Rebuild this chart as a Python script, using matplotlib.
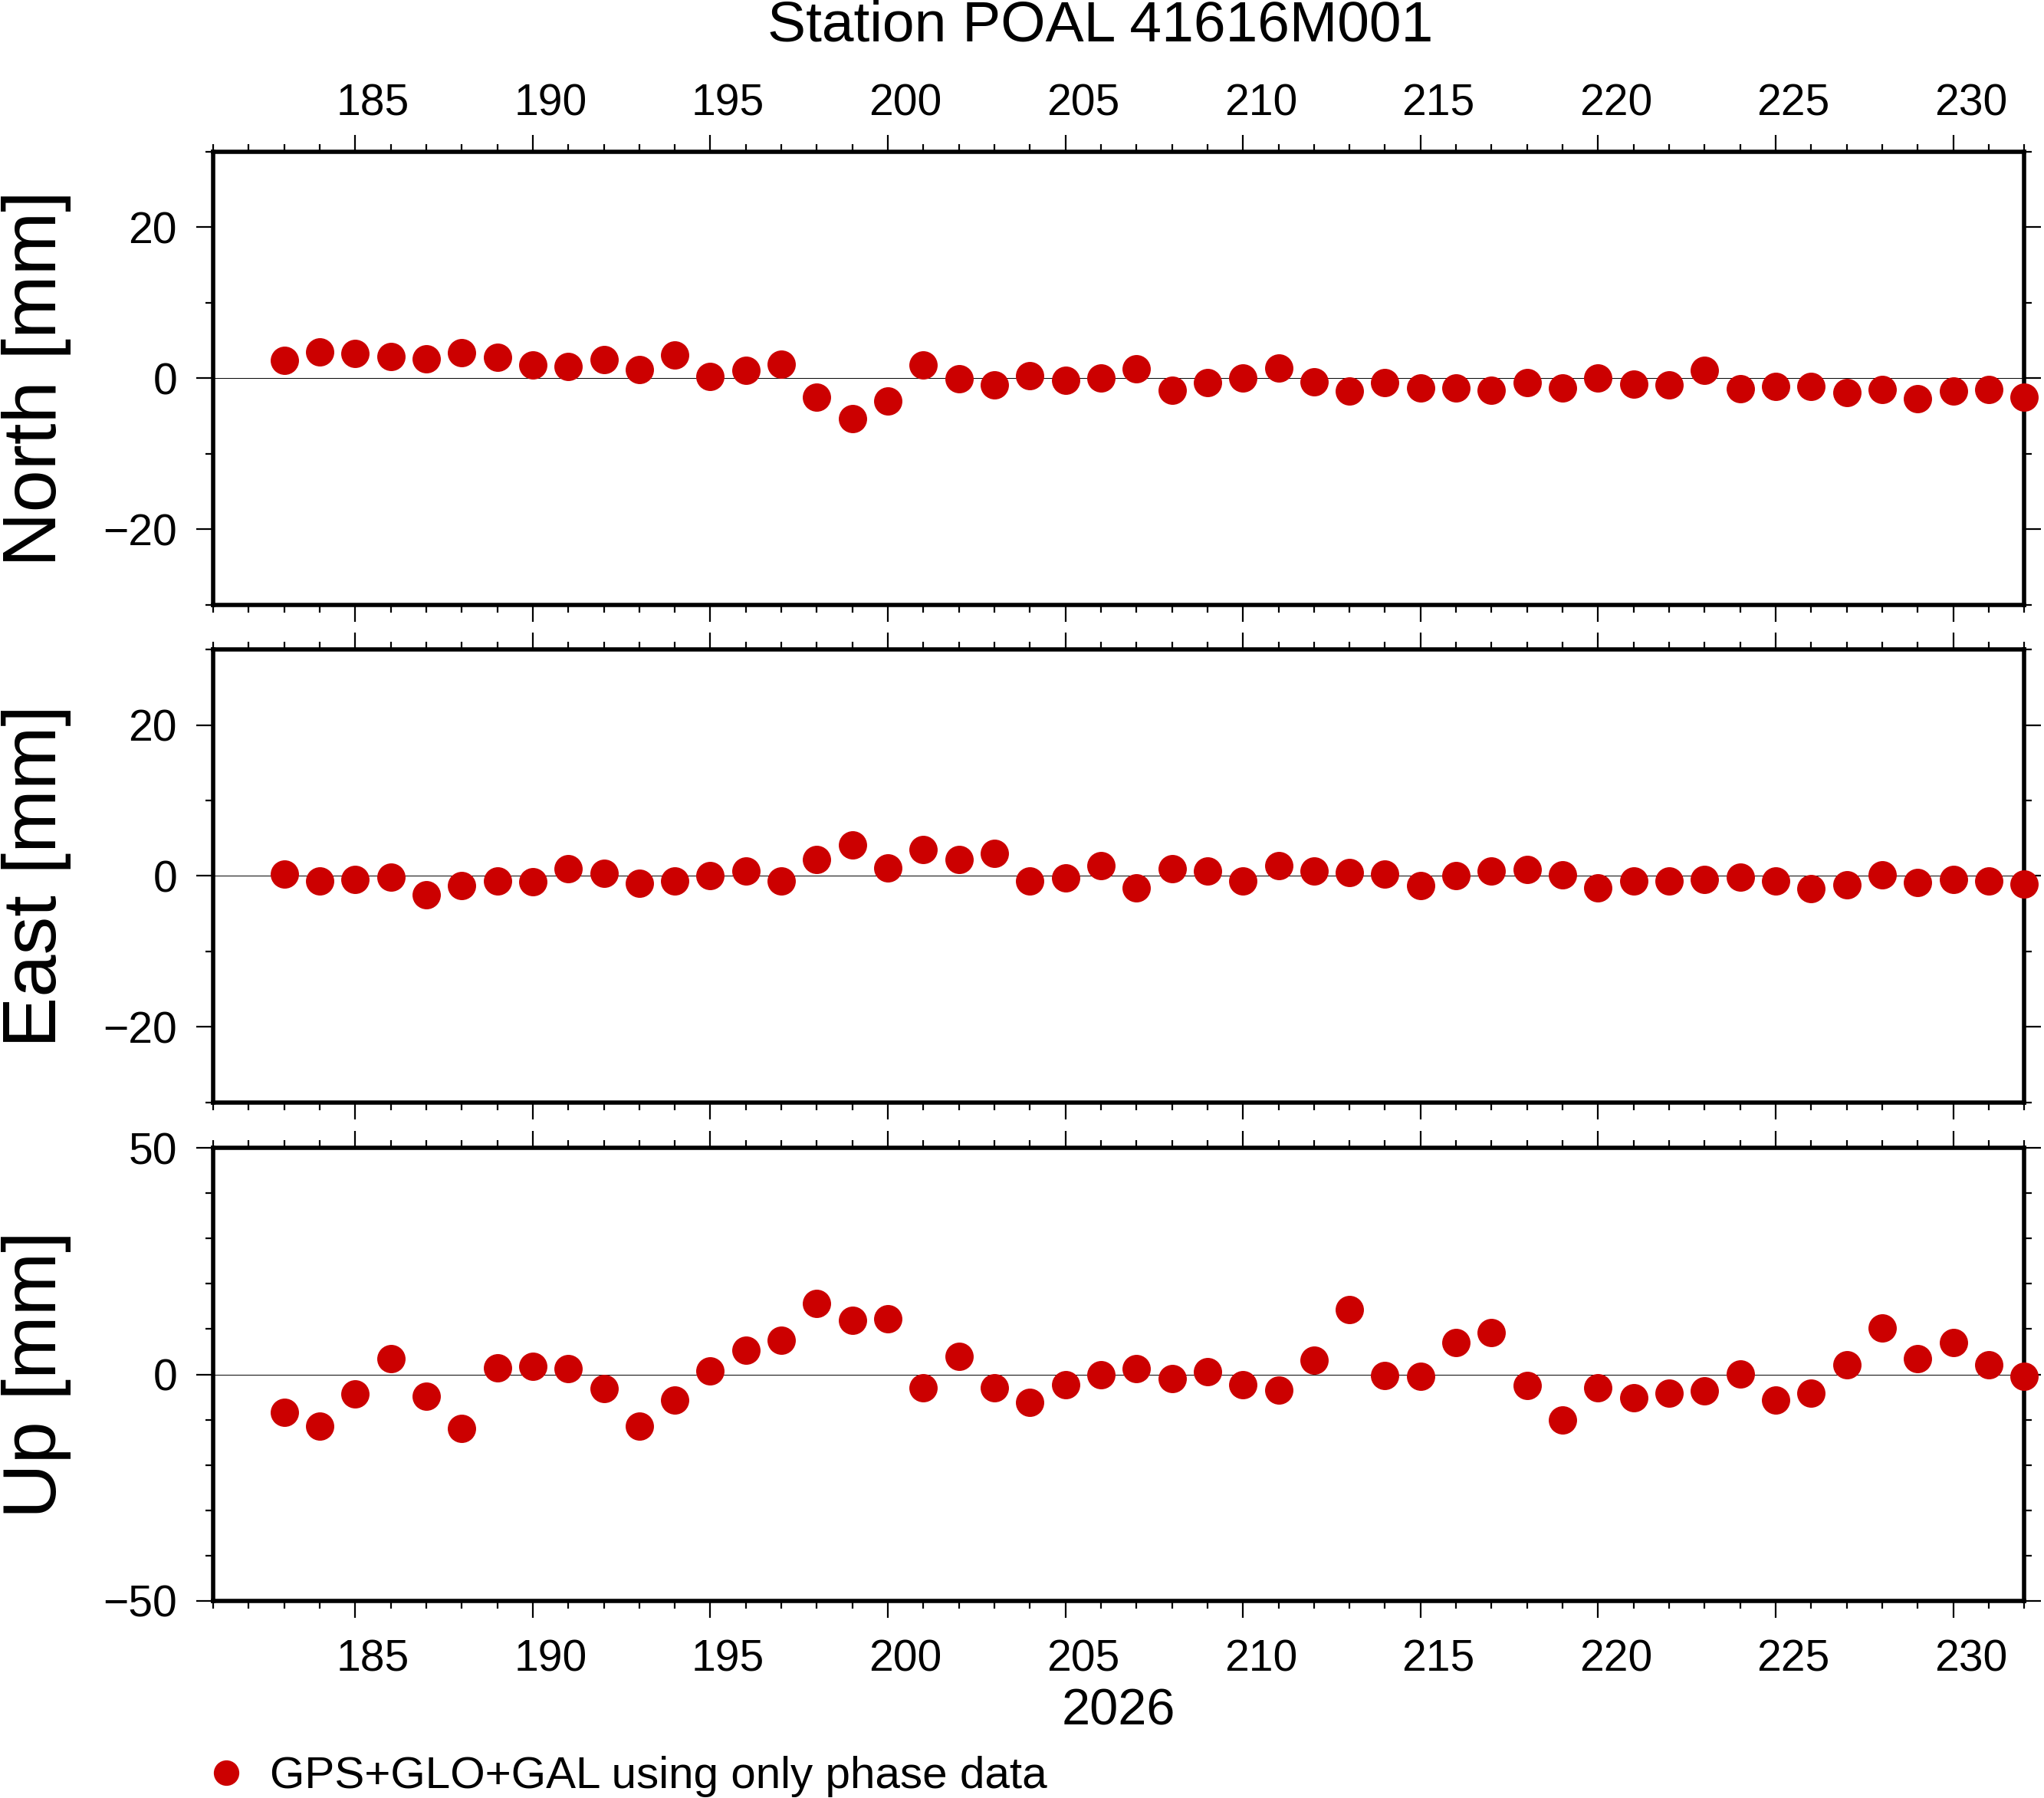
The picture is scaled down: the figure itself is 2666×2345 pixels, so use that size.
import matplotlib
matplotlib.use('Agg')
import matplotlib.pyplot as plt
from matplotlib.ticker import MultipleLocator
from matplotlib.transforms import ScaledTranslation

plt.rcParams['font.family'] = ['Liberation Sans', 'DejaVu Sans']

TITLE = 'Station POAL 41616M001'
YEAR = '2026'
LEGEND_LABEL = 'GPS+GLO+GAL using only phase data'

DAYS = [183, 184, 185, 186, 187, 188, 189, 190, 191, 192,
        193, 194, 195, 196, 197, 198, 199, 200, 201, 202,
        203, 204, 205, 206, 207, 208, 209, 210, 211, 212,
        213, 214, 215, 216, 217, 218, 219, 220, 221, 222,
        223, 224, 225, 226, 227, 228, 229, 230, 231, 232]

NORTH = [2.4, 3.5, 3.3, 2.9, 2.6, 3.4, 2.8, 1.7, 1.5, 2.5,
         1.1, 3.1, 0.2, 1.0, 1.8, -2.5, -5.4, -3.0, 1.7, -0.1,
         -0.9, 0.3, -0.3, 0.0, 1.2, -1.6, -0.6, 0.0, 1.3, -0.5,
         -1.7, -0.6, -1.3, -1.3, -1.6, -0.6, -1.3, 0.0, -0.8, -0.9,
         1.0, -1.4, -1.1, -1.1, -1.9, -1.5, -2.7, -1.7, -1.5, -2.5]

EAST = [0.3, -0.7, -0.5, -0.2, -2.5, -1.3, -0.7, -0.8, 1.0, 0.4,
        -1.0, -0.7, 0.0, 0.7, -0.7, 2.2, 4.1, 1.1, 3.5, 2.2,
        3.0, -0.7, -0.3, 1.4, -1.6, 1.0, 0.7, -0.7, 1.4, 0.7,
        0.5, 0.3, -1.3, 0.0, 0.7, 0.9, 0.2, -1.6, -0.7, -0.7,
        -0.5, -0.2, -0.7, -1.7, -1.2, 0.1, -0.9, -0.5, -0.7, -1.1]

UP = [-8.4, -11.4, -4.3, 3.4, -4.9, -11.9, 1.4, 1.8, 1.2, -3.2,
      -11.4, -5.7, 0.8, 5.3, 7.6, 15.7, 12.0, 12.2, -3.0, 3.9,
      -3.0, -6.2, -2.2, 0.0, 1.2, -0.9, 0.6, -2.3, -3.4, 3.1,
      14.3, -0.3, -0.4, 7.0, 9.3, -2.4, -10.0, -3.0, -5.2, -4.2,
      -3.6, 0.1, -5.7, -4.2, 2.1, 10.3, 3.4, 7.0, 2.2, -0.4]

DAY_TICKS = [185, 190, 195, 200, 205, 210, 215, 220, 225, 230]

RED = '#cc0000'

# name, values, y half-range, labelled tick step
PANELS = [
    ('North [mm]', NORTH, 30, 20),
    ('East [mm]', EAST, 30, 20),
    ('Up [mm]', UP, 50, 50),
]

LEFT = 0.1043
WIDTH = 0.8860
HEIGHT = 0.2520
BOTTOMS = [0.6637, 0.3868, 0.1096]


def main():
    fig = plt.figure(figsize=(26.66, 23.45), dpi=100)
    # GMT puts day annotations in the middle of the day interval
    half_day = ScaledTranslation(0.231, 0, fig.dpi_scale_trans)

    handle = None
    for i, (name, values, lim, step) in enumerate(PANELS):
        ax = fig.add_axes([LEFT, BOTTOMS[i], WIDTH, HEIGHT])
        ax.axhline(0, color='black', lw=0.7, zorder=1)
        line, = ax.plot(DAYS, values, 'o', color=RED, ms=26.6, mew=0,
                        clip_on=False, zorder=3, label=LEGEND_LABEL)
        handle = line

        ax.set_xlim(181, 232)
        ax.set_ylim(-lim, lim)
        ax.set_xticks(DAY_TICKS, [str(d) for d in DAY_TICKS])
        ax.xaxis.set_minor_locator(MultipleLocator(1))
        ax.yaxis.set_major_locator(MultipleLocator(step))
        ax.yaxis.set_minor_locator(MultipleLocator(10))

        for spine in ax.spines.values():
            spine.set_linewidth(4.0)

        ax.tick_params(which='both', direction='out', top=True, right=True,
                       width=1.6, labelsize=41)
        ax.tick_params(which='major', length=15.8)
        ax.tick_params(which='minor', length=7.2)
        ax.tick_params(axis='y', pad=18)
        ax.tick_params(axis='x', labelbottom=(i == 2), labeltop=(i == 0),
                       pad=9.4 if i == 0 else 20)

        for tick in ax.xaxis.get_major_ticks():
            tick.label1.set_transform(tick.label1.get_transform() + half_day)
            tick.label2.set_transform(tick.label2.get_transform() + half_day)

        ax.set_ylabel(name, fontsize=71.5)
        ax.yaxis.set_label_coords(-0.0785, 0.5)

        if i == 2:
            ax.set_xlabel(YEAR, fontsize=48, labelpad=7)

    fig.text(0.5383, 1 - 54 / 2345, TITLE, ha='center', va='baseline',
             fontsize=54)

    fig.legend(handles=[handle], labels=[LEGEND_LABEL], loc='center left',
               bbox_to_anchor=(265.5 / 2666, 1 - 2317 / 2345),
               frameon=False, borderpad=0, borderaxespad=0,
               handlelength=1.0, handletextpad=0.48, fontsize=42,
               markerscale=0.9)

    fig.savefig('out.png', dpi=100)
    plt.close(fig)


if __name__ == '__main__':
    main()
